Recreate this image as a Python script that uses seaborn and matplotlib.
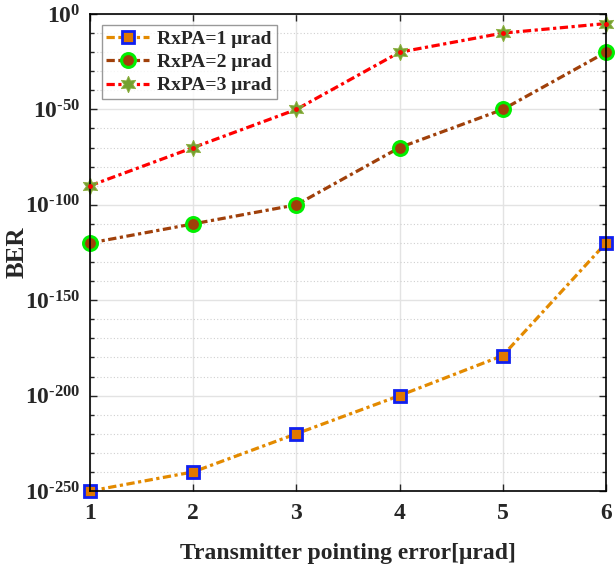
import numpy as np
import pandas as pd
import matplotlib
matplotlib.use("Agg")
import matplotlib.pyplot as plt
import seaborn as sns
from matplotlib.ticker import FixedLocator, FixedFormatter, NullFormatter

x_err = [1, 2, 3, 4, 5, 6]
# BER exponents (log10)
exp_rx1 = [-250, -240, -220, -200, -179, -120]
exp_rx2 = [-120, -110, -100, -70, -50, -20]
exp_rx3 = [-90, -70, -50, -20, -10, -5]
labels = ["RxPA=1 μrad", "RxPA=2 μrad", "RxPA=3 μrad"]
ytick_exps = [0, -50, -100, -150, -200, -250]

sns.set_style("ticks")
plt.rcParams["font.family"] = ["Liberation Serif", "DejaVu Serif"]
plt.rcParams["font.weight"] = "bold"
plt.rcParams["mathtext.fontset"] = "custom"
plt.rcParams["mathtext.rm"] = "Liberation Serif:bold"
plt.rcParams["mathtext.it"] = "Liberation Serif:bold:italic"
plt.rcParams["mathtext.bf"] = "Liberation Serif:bold"

fig = plt.figure(figsize=(6.15, 5.7), dpi=100)
ax = fig.add_axes([0.1463, 0.1386, 0.8391, 0.8368])

styles = [
    dict(color="#E38A00", marker="s", mfc="#E07800", mec="#1020F0", ms=8, mew=2.0),
    dict(color="#A0400A", marker="o", mfc="#A0400A", mec="#00F000", ms=10, mew=2.2),
    dict(color="#FF0000", marker=(6, 1, 0), mfc="#73A030", mec="#8DB040", ms=12, mew=0.6),
]
series = [exp_rx1, exp_rx2, exp_rx3]
for exps, lab, st in zip(series, labels, styles):
    df = pd.DataFrame({"x": x_err, "BER": [10.0 ** e for e in exps]})
    sns.lineplot(data=df, x="x", y="BER", ax=ax, label=lab, color=st["color"],
                 linewidth=2.3, dashes=False, legend=False)
    line = ax.lines[-1]
    line.set_linestyle((0, (2.6, 1.1, 1.0, 1.1)))
    line.set_marker(st["marker"])
    line.set_markerfacecolor(st["mfc"])
    line.set_markeredgecolor(st["mec"])
    line.set_markersize(st["ms"])
    line.set_markeredgewidth(st["mew"])
    line.set_label(lab)
    line.set_clip_on(False)

# small red dots in star centres
ax.plot(x_err, [10.0 ** e for e in exp_rx3], ls="none", marker="o", ms=2.5,
        color="#FF0000", clip_on=False, zorder=5)

ax.set_yscale("log")
ax.set_ylim(1e-250, 1e0)
ax.set_xlim(1, 6)
ax.set_xticks(x_err)
ax.set_xticklabels([str(v) for v in x_err])
ax.yaxis.set_major_locator(FixedLocator([10.0 ** e for e in ytick_exps]))
ax.yaxis.set_major_formatter(FixedFormatter([r"$10^{\text{%d}}$" % e for e in ytick_exps]))
minor = [10.0 ** e for e in range(-250, 1, 10) if e % 50 != 0]
ax.yaxis.set_minor_locator(FixedLocator(minor))
ax.yaxis.set_minor_formatter(NullFormatter())

ax.grid(True, which="major", color="#E3E3E3", linewidth=1.0, linestyle="-")
ax.grid(True, which="minor", axis="y", color="#D0D0D0", linewidth=0.8, linestyle=(0, (1, 2)))
ax.set_axisbelow(True)

ax.tick_params(which="both", direction="in", top=True, right=True, labelsize=17,
               width=1.0, length=5)
ax.tick_params(axis="x", pad=9)
ax.tick_params(axis="y", pad=7)
ax.tick_params(which="minor", length=3)
for lab in ax.get_xticklabels() + ax.get_yticklabels():
    lab.set_fontweight("bold")
for sp in ax.spines.values():
    sp.set_linewidth(1.2)
    sp.set_color("black")

ax.set_xlabel("Transmitter pointing error[μrad]", fontsize=17, fontweight="bold")
ax.xaxis.set_label_coords(0.5, -0.11)
ax.set_ylabel("BER", fontsize=18, fontweight="bold")
ax.yaxis.set_label_coords(-0.118, 0.5)

leg = ax.legend(loc="upper left", bbox_to_anchor=(0.015, 0.985), fontsize=14,
                frameon=True, fancybox=False, edgecolor="#808080",
                handlelength=2.2, borderpad=0.25, labelspacing=0.3, handletextpad=0.4,
                borderaxespad=0.2)
leg.get_frame().set_linewidth(1.0)
for t in leg.get_texts():
    t.set_fontweight("bold")

fig.savefig("out.png", dpi=100)
